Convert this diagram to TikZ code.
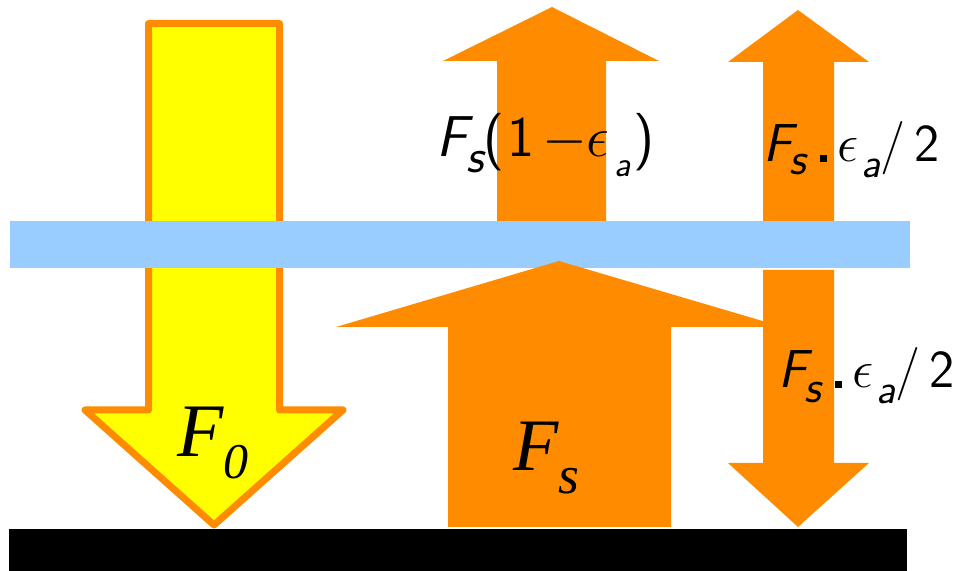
\RequirePackage{fix-cm}
\documentclass[tikz,border=0pt]{standalone}
\usepackage{fontspec}
\newfontfamily\timesfont{Liberation Serif}
\definecolor{forange}{HTML}{FF8C00}
\definecolor{fyellow}{HTML}{FFFF00}
\definecolor{fblue}{HTML}{99CCFF}
\newcommand{\sfit}[1]{{\sffamily\itshape #1}}
\newcommand{\sfup}[1]{{\sffamily\upshape #1}}
\newcommand{\lowsub}[3]{\raisebox{-#1}{\fontsize{#2}{#2}\selectfont #3}}
\newcommand{\sqdot}{\rule{3.5pt}{3.5pt}}
\tikzset{
  yarrow/.style={draw=forange, fill=fyellow, line width=3.5pt, line join=round},
  oarrow/.style={fill=forange},
  label/.style={inner sep=0pt, anchor=base west, text=black},
}
\begin{document}
\begin{tikzpicture}[x=0.5pt,y=-0.5pt]
\useasboundingbox (0,0) rectangle (959,571);
% yellow incident arrow
\draw[yarrow] (148.5,23.5) -- (279.5,23.5) -- (279.5,410) -- (343,410) -- (214,525) -- (85,410) -- (148.5,410) -- cycle;
% blue layer
\fill[fblue] (10,221) rectangle (910,268);
% orange arrows
\fill[oarrow] (497,221) -- (497,61) -- (443,61) -- (552,7) -- (659,61) -- (606,61) -- (606,221) -- cycle;
\fill[oarrow] (763,221) -- (763,62) -- (728,62) -- (798,10) -- (869,62) -- (834,62) -- (834,221) -- cycle;
\fill[oarrow] (763,270) -- (763,463) -- (728,463) -- (798,527) -- (869,463) -- (834,463) -- (834,270) -- cycle;
\fill[oarrow] (448,527) -- (448,327) -- (336,327) -- (559,261) -- (783,327) -- (671,327) -- (671,527) -- cycle;
% ground
\fill[black] (9,529) rectangle (907,571);
% labels
\node[label, font=\fontsize{28.8}{30}\selectfont] (lt) at (436,157)
  {\sfit{F}\kern-0.5pt\lowsub{8pt}{24}{\sfit{s}}\kern0pt\sfup{(}\kern1.5pt\sfup{1}\kern4pt$-$\kern-0.5pt$\epsilon$\kern2.5pt\lowsub{10pt}{18}{\sfit{a}}\kern1.5pt\sfup{)}};
\node[label, font=\fontsize{26.7}{28}\selectfont] (lu) at (763,162)
  {\sfit{F}\kern-1pt\lowsub{6.5pt}{23}{\sfit{s}}\kern6.5pt\sqdot\kern5.25pt$\epsilon$\kern1.65pt\lowsub{8pt}{21}{\sfit{a}}\kern0.1pt\sfup{/}\kern4.65pt\sfup{2}};
\node[label, font=\fontsize{26.7}{28}\selectfont] (ll) at (778,388)
  {\sfit{F}\kern-1pt\lowsub{7.5pt}{23}{\sfit{s}}\kern6.5pt\sqdot\kern5.25pt$\epsilon$\kern1.65pt\lowsub{8pt}{21}{\sfit{a}}\kern0.1pt\sfup{/}\kern4.65pt\sfup{2}};
\node[label, font=\fontsize{37.8}{40}\timesfont\itshape] (lf0) at (177,457)
  {F\lowsub{11pt}{25}{\timesfont\itshape 0}};
\node[label, font=\fontsize{37}{40}\timesfont\itshape] (lfs) at (513,471)
  {F\lowsub{11.5pt}{26.8}{\timesfont\itshape s}};
\end{tikzpicture}
\end{document}
